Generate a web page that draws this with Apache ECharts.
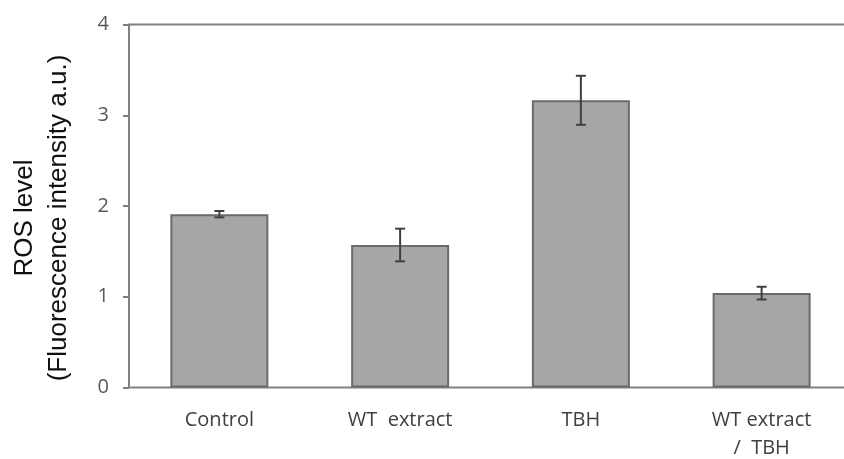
<!DOCTYPE html>
<html>
<head>
<meta charset="utf-8">
<style>
html,body{margin:0;padding:0;background:#fff;}
#chart{width:844px;height:459px;}
</style>
<script src="https://cdn.jsdelivr.net/npm/echarts@6/dist/echarts.min.js"></script>
</head>
<body>
<div id="chart"></div>
<script>
var categories = ['Control', 'WT  extract', 'TBH', 'WT extract\n/  TBH'];
var means = [1.91, 1.57, 3.165, 1.04];
var errors = [0.035, 0.18, 0.27, 0.07];
var yTicks = [0, 1, 2, 3, 4];

var errData = categories.map(function (c, i) {
  return [i, means[i] - errors[i], means[i] + errors[i]];
});

var chart = echarts.init(document.getElementById('chart'), null, {renderer: 'canvas'});
chart.setOption({
  animation: false,
  grid: {
    left: 129, top: 24.5, width: 723, height: 363,
    containLabel: false, outerBoundsMode: 'none',
    show: true, borderColor: '#808080', borderWidth: 2, backgroundColor: 'transparent'
  },
  xAxis: {
    type: 'category',
    data: categories,
    axisLine: {show: false},
    axisTick: {show: false},
    axisLabel: {
      margin: 19, color: '#404040', fontFamily: 'Open Sans', fontSize: 20, lineHeight: 28,
      interval: 0
    }
  },
  yAxis: {
    type: 'value',
    min: yTicks[0], max: yTicks[yTicks.length - 1], interval: 1,
    splitLine: {show: false},
    axisLine: {show: false},
    axisTick: {show: true, length: 6, lineStyle: {color: '#808080', width: 2}},
    axisLabel: {
      margin: 20, color: '#595959', fontFamily: 'Open Sans', fontSize: 20,
      formatter: function (v) { return yTicks.indexOf(v) >= 0 ? String(v) : ''; }
    },
    name: 'ROS level\n(Fluorescence intensity a.u.)',
    nameLocation: 'middle',
    nameRotate: 90,
    nameGap: 53,
    nameTextStyle: {
      color: '#111', fontFamily: 'Liberation Sans', fontSize: 26, lineHeight: 34,
      padding: [0, 24, 0, 0]
    }
  },
  series: [
    {
      type: 'bar',
      data: means,
      barWidth: 98,
      itemStyle: {color: '#a6a6a6', borderColor: '#6b6b6b', borderWidth: 2},
      z: 2
    },
    {
      type: 'custom',
      data: errData,
      z: 5,
      renderItem: function (params, api) {
        var x = api.value(0);
        var lo = api.coord([x, api.value(1)]);
        var hi = api.coord([x, api.value(2)]);
        var hw = 5;
        var st = {stroke: '#404040', lineWidth: 2};
        return {
          type: 'group',
          children: [
            {type: 'line', shape: {x1: lo[0], y1: lo[1], x2: hi[0], y2: hi[1]}, style: st},
            {type: 'line', shape: {x1: hi[0] - hw, y1: hi[1], x2: hi[0] + hw, y2: hi[1]}, style: st},
            {type: 'line', shape: {x1: lo[0] - hw, y1: lo[1], x2: lo[0] + hw, y2: lo[1]}, style: st}
          ]
        };
      }
    }
  ]
});
</script>
</body>
</html>
